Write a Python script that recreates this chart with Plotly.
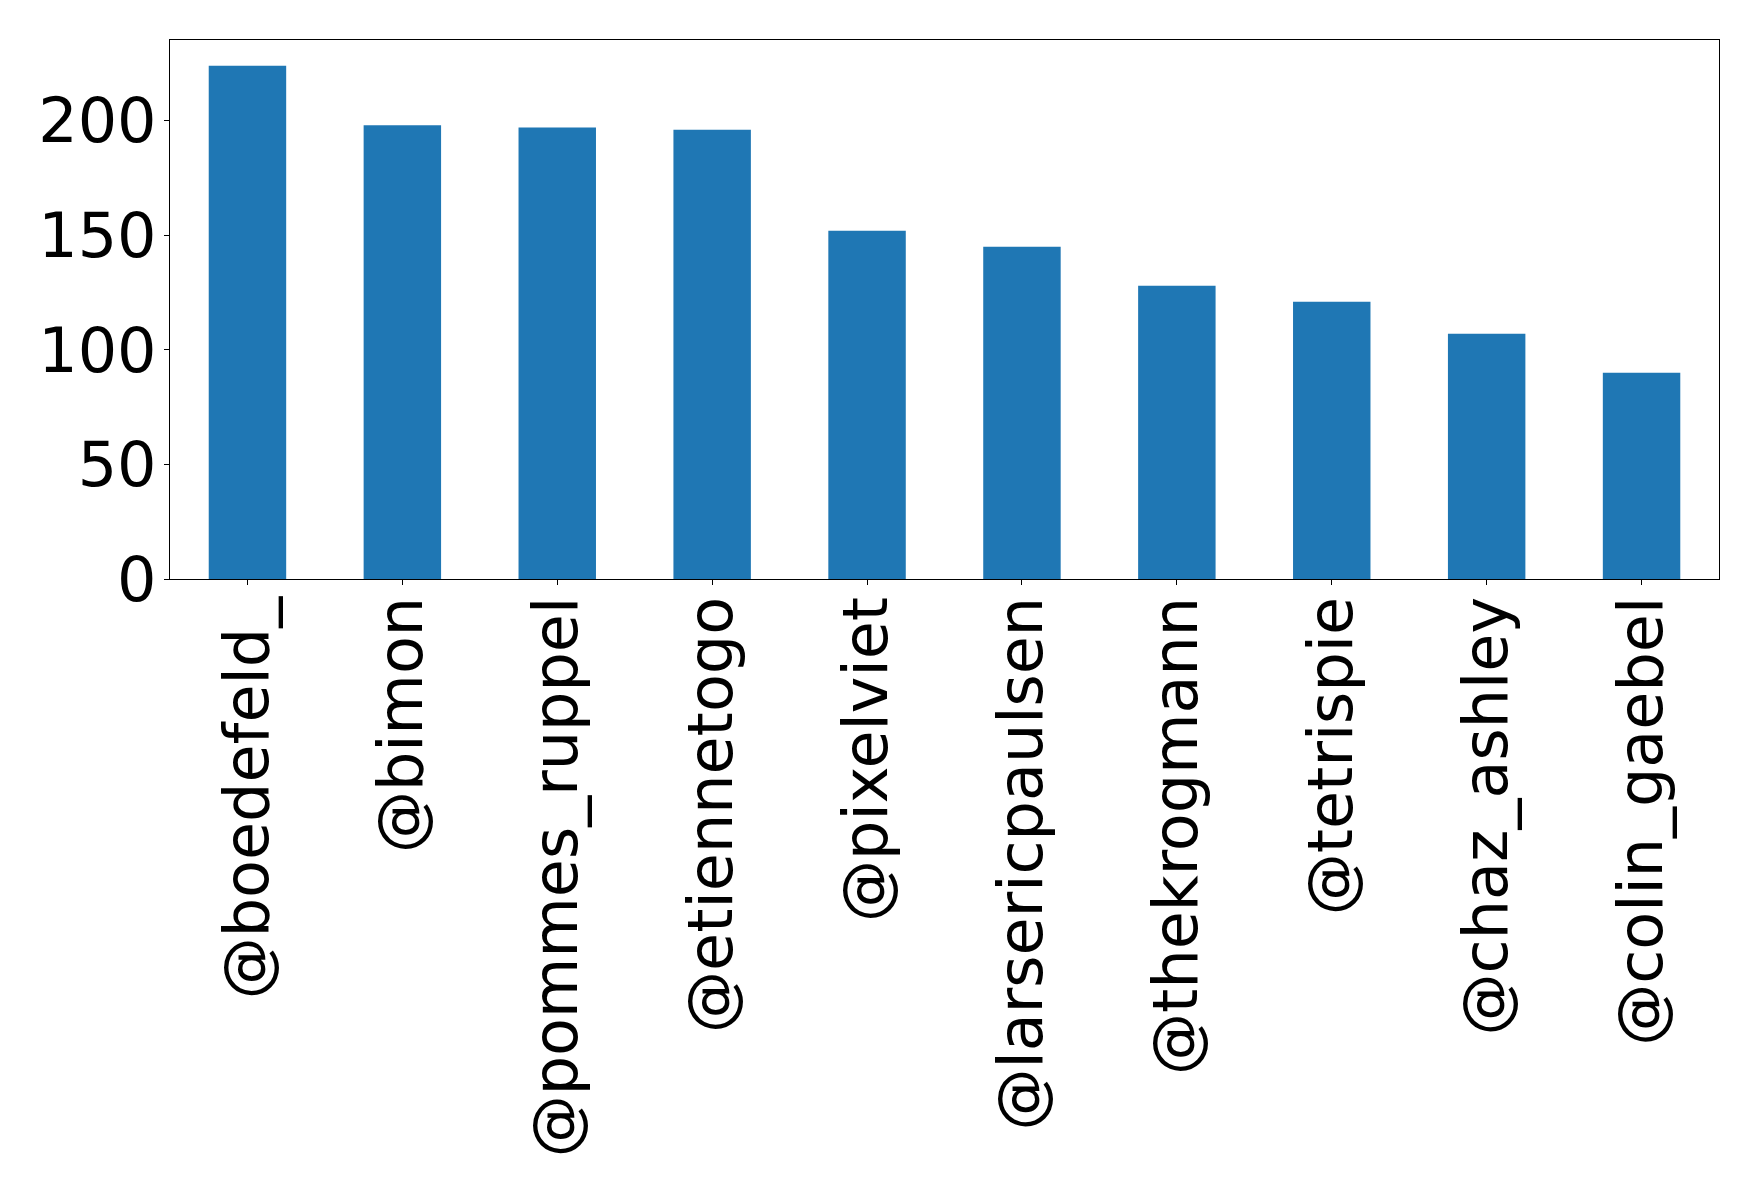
import plotly.graph_objects as go

users = ["@boedefeld_", "@bimon", "@pommes_ruppel", "@etiennetogo", "@pixelviet",
         "@larsericpaulsen", "@thekrogmann", "@tetrispie", "@chaz_ashley", "@colin_gaebel"]
counts = [224, 198, 197, 196, 152, 145, 128, 121, 107, 90]
y_ticks = [0, 50, 100, 150, 200]

fig = go.Figure(go.Bar(x=users, y=counts, width=0.5, marker_color="#1f77b4",
                       marker_line_width=0))

font = dict(family="DejaVu Sans", size=62, color="black")
fig.update_layout(
    width=1750, height=1185,
    margin=dict(l=162, r=39, t=32, b=614, autoexpand=False),
    paper_bgcolor="white", plot_bgcolor="white",
    showlegend=False,
    font=font,
)
fig.update_xaxes(range=[-0.5, 9.5], tickangle=-90, tickfont=font,
                 showline=True, linecolor="black", linewidth=1.1, mirror=True,
                 ticks="outside", ticklen=5, tickwidth=1.1, tickcolor="black",
                 showgrid=False, zeroline=False, ticklabelstandoff=-13)
fig.update_yaxes(range=[0, 235.2], tickvals=y_ticks, tickfont=font,
                 showline=True, linecolor="black", linewidth=1.1, mirror=True,
                 ticks="outside", ticklen=5, tickwidth=1.1, tickcolor="black",
                 showgrid=False, zeroline=False, ticklabelstandoff=-5)

fig.write_html("out.html")
